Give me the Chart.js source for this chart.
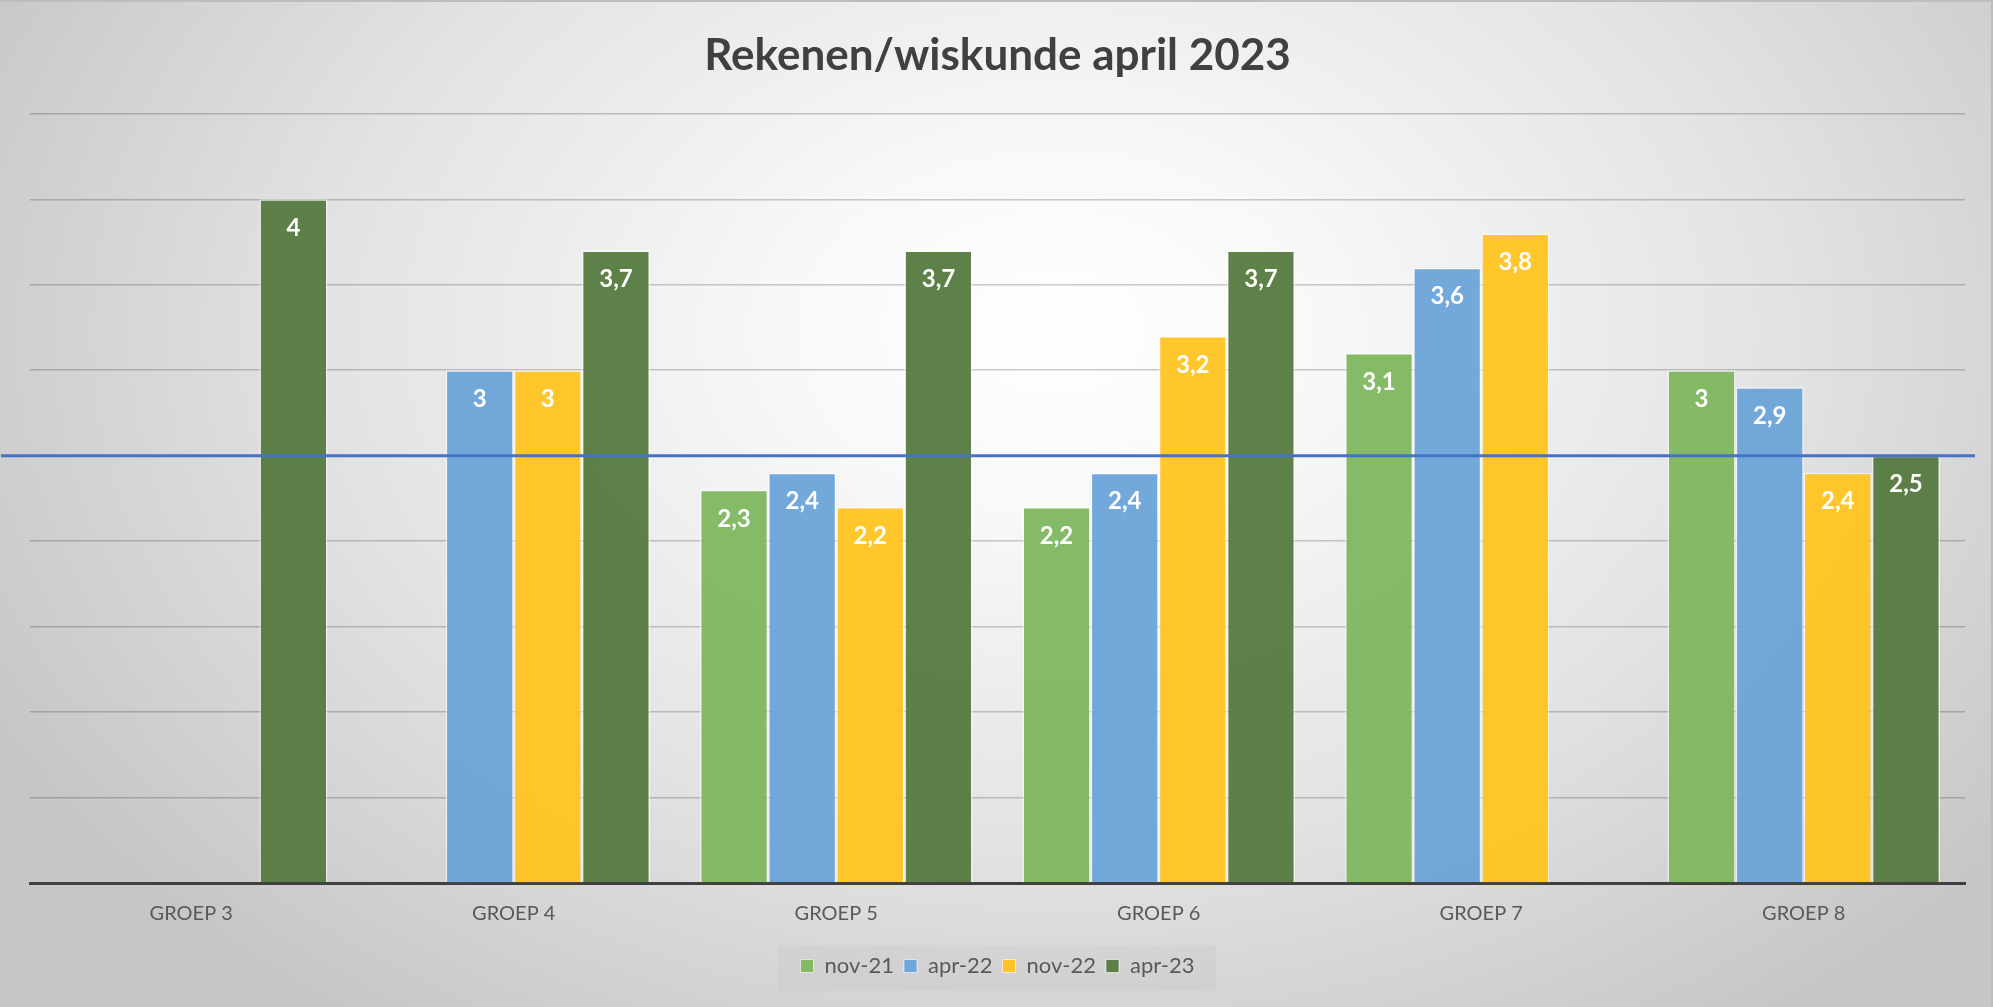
<!DOCTYPE html>
<html>
<head>
<meta charset="utf-8">
<script src="https://cdn.jsdelivr.net/npm/chart.js@4/dist/chart.umd.min.js"></script>
<style>
  html, body { margin: 0; padding: 0; }
  body { width: 1993px; height: 1007px; overflow: hidden; }
  #wrap {
    position: relative; width: 1993px; height: 1007px;
    background: radial-gradient(ellipse 1200px 850px at 53% 33%, #ffffff 0%, #f8f8f8 22%, #e3e3e3 60%, #c6c6c6 100%);
  }
  #frame {
    position: absolute; left: 0; top: 0; width: 1993px; height: 1007px; box-sizing: border-box;
    border-top: 2px solid #bdbdbd; border-right: 2px solid #bcbcbc; pointer-events: none;
  }
  canvas { display: block; position: absolute; left: 0; top: 0; }
</style>
</head>
<body>
<div id="wrap"><canvas id="c" width="1993" height="1007" style="width:1993px;height:1007px"></canvas><div id="frame"></div></div>
<script>
const chartTitle = 'Rekenen/wiskunde april 2023';
const categories = ['GROEP 3', 'GROEP 4', 'GROEP 5', 'GROEP 6', 'GROEP 7', 'GROEP 8'];
const seriesNames = ['nov-21', 'apr-22', 'nov-22', 'apr-23'];
const nov21 = [null, null, 2.3, 2.2, 3.1, 3];
const apr22 = [null, 3, 2.4, 2.4, 3.6, 2.9];
const nov22 = [null, 3, 2.2, 3.2, 3.8, 2.4];
const apr23 = [4, 3.7, 3.7, 3.7, null, 2.5];
const referenceValue = 2.5;
const yMin = 0, yMax = 4.5, yStep = 0.5;

const seriesColors = ['rgba(126,182,94,0.95)', 'rgba(106,163,216,0.95)', 'rgba(255,196,32,0.95)', 'rgba(84,122,62,0.95)'];
const FONT = 'Lato, "Open Sans", sans-serif';

const dataLabelPlugin = {
  id: 'dataLabels',
  afterDatasetsDraw(chart) {
    const ctx = chart.ctx;
    ctx.save();
    ctx.fillStyle = '#ffffff';
    ctx.font = 'bold 24px ' + FONT;
    ctx.textAlign = 'center';
    ctx.textBaseline = 'middle';
    chart.data.datasets.forEach((ds, i) => {
      const meta = chart.getDatasetMeta(i);
      meta.data.forEach((bar, j) => {
        const v = ds.data[j];
        if (v === null || v === undefined) return;
        ctx.fillText(String(v).replace('.', ','), bar.x, bar.y + 29);
      });
    });
    ctx.restore();
  }
};

const refLinePlugin = {
  id: 'refLine',
  afterDatasetsDraw(chart) {
    const y = chart.scales.y.getPixelForValue(referenceValue);
    const ctx = chart.ctx;
    ctx.save();
    ctx.strokeStyle = '#4472C4';
    ctx.lineWidth = 3;
    ctx.beginPath();
    ctx.moveTo(1, y);
    ctx.lineTo(1975, y);
    ctx.stroke();
    ctx.restore();
  }
};

const legendBgPlugin = {
  id: 'legendBg',
  beforeDraw(chart) {
    const lg = chart.legend;
    if (!lg || !lg.legendHitBoxes || !lg.legendHitBoxes.length) return;
    const boxes = lg.legendHitBoxes;
    const l = Math.min(...boxes.map(b => b.left)) - 22;
    const r = Math.max(...boxes.map(b => b.left + b.width)) + 22;
    const ctx = chart.ctx;
    ctx.save();
    ctx.fillStyle = 'rgba(0,0,0,0.025)';
    ctx.fillRect(l, 945, r - l, 46);
    ctx.restore();
  }
};

const datasets = [nov21, apr22, nov22, apr23].map((arr, i) => ({
  label: seriesNames[i],
  data: arr,
  backgroundColor: seriesColors[i],
  borderColor: 'rgba(255,255,255,0.55)',
  borderWidth: 1.5,
  categoryPercentage: 0.845,
  barPercentage: 1.0
}));

new Chart(document.getElementById('c'), {
  type: 'bar',
  data: { labels: categories, datasets },
  options: {
    responsive: false,
    animation: false,
    devicePixelRatio: 1,
    layout: { padding: { left: 30, right: 28, top: 0, bottom: 20 } },
    plugins: {
      title: {
        display: true,
        text: chartTitle,
        color: '#404040',
        font: { family: FONT, size: 44, weight: 'bold', lineHeight: 1.2 },
        padding: { top: 29, bottom: 32 }
      },
      legend: {
        position: 'bottom',
        labels: {
          color: '#595959',
          font: { family: FONT, size: 22 },
          boxWidth: 13, boxHeight: 13,
          padding: 10,
          generateLabels(chart) {
            return chart.data.datasets.map((ds, i) => ({
              text: ds.label, fillStyle: ds.backgroundColor, strokeStyle: 'rgba(255,255,255,0.6)',
              lineWidth: 1, hidden: false, datasetIndex: i, fontColor: '#595959'
            }));
          }
        }
      },
      tooltip: { enabled: false }
    },
    scales: {
      x: {
        grid: { display: false, drawTicks: false },
        border: { display: true, color: '#404040', width: 3 },
        ticks: { color: '#595959', font: { family: FONT, size: 20 }, padding: 19 },
        afterFit(scale) { scale.height = 62; }
      },
      y: {
        min: yMin, max: yMax,
        ticks: { display: false, stepSize: yStep },
        border: { display: false },
        grid: {
          drawTicks: false,
          color: ctx => ctx.tick && ctx.tick.value === 0 ? 'rgba(0,0,0,0)' : 'rgba(0,0,0,0.2)',
          lineWidth: 1.5
        },
        afterFit(scale) { scale.width = 0; }
      }
    }
  },
  plugins: [legendBgPlugin, dataLabelPlugin, refLinePlugin]
});
</script>
</body>
</html>
